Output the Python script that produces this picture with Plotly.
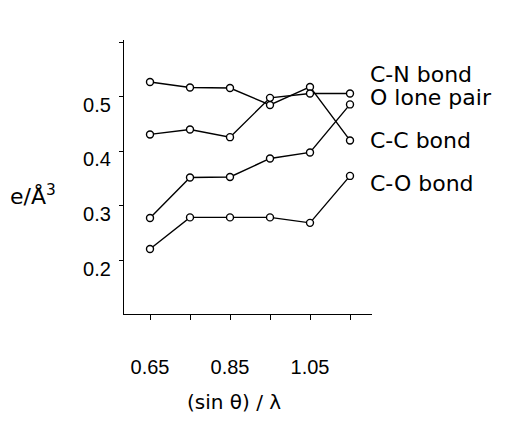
import plotly.graph_objects as go

x_vals = [0.65, 0.75, 0.85, 0.95, 1.05, 1.15]
cn_bond = [0.527, 0.517, 0.516, 0.485, 0.518, 0.420]
o_lone_pair = [0.431, 0.440, 0.426, 0.498, 0.506, 0.506]
cc_bond = [0.278, 0.352, 0.353, 0.387, 0.398, 0.486]
co_bond = [0.221, 0.279, 0.279, 0.279, 0.269, 0.355]

series = [("C-N bond", cn_bond), ("O lone pair", o_lone_pair),
          ("C-C bond", cc_bond), ("C-O bond", co_bond)]

x_tickvals = [0.65, 0.85, 1.05]
x_ticktext = ["0.65", "0.85", "1.05"]
x_minor_ticks = [0.75, 0.95, 1.15]
y_tickvals = [0.2, 0.3, 0.4, 0.5]
y_ticktext = ["0.2", "0.3", "0.4", "0.5"]
y_minor_ticks = [0.6]

label_texts = ["C-N bond", "O lone pair", "C-C bond", "C-O bond"]
label_y = [0.541, 0.499, 0.420, 0.341]

FONT = "DejaVu Sans"
TICKFONT = "Liberation Sans"

fig = go.Figure()
for name, vals in series:
    fig.add_trace(go.Scatter(
        x=x_vals, y=vals, name=name, mode="lines+markers",
        line=dict(color="black", width=1.4),
        marker=dict(symbol="circle", size=7, color="white",
                    line=dict(color="black", width=1.4)),
        showlegend=False, cliponaxis=False))

for t, yv in zip(label_texts, label_y):
    fig.add_annotation(x=1.0, xref="paper", xshift=-4, y=yv, yref="y",
                       text=t, showarrow=False, xanchor="left", yanchor="middle",
                       font=dict(family=FONT, size=22, color="black"))

fig.add_annotation(x=-0.468, xref="paper", y=0.32, yref="y",
                   text="e/Å<sup>3</sup>", showarrow=False,
                   xanchor="left", yanchor="middle",
                   font=dict(family=FONT, size=22, color="black"))
fig.add_annotation(x=0.442, xref="paper", y=-0.32, yref="paper",
                   text="(sin θ) / λ", showarrow=False,
                   xanchor="center", yanchor="middle",
                   font=dict(family=FONT, size=20, color="black"))

fig.update_layout(
    width=526, height=438,
    margin=dict(l=116, r=162, t=32, b=132),
    paper_bgcolor="white", plot_bgcolor="white",
    font=dict(family=FONT, color="black"),
    xaxis=dict(range=[0.585, 1.205], showgrid=False, zeroline=False,
               showline=True, linecolor="black", linewidth=1.3,
               ticks="outside", ticklen=5, tickwidth=1.2, tickcolor="black",
               tickvals=x_tickvals, ticktext=x_ticktext,
               minor=dict(tickvals=x_minor_ticks, ticks="outside", ticklen=5,
                          tickwidth=1.2, tickcolor="black", showgrid=False),
               tickfont=dict(family=TICKFONT, size=20, color="black"),
               ticklabelstandoff=30),
    yaxis=dict(range=[0.102, 0.604], showgrid=False, zeroline=False,
               showline=True, linecolor="black", linewidth=1.3,
               ticks="outside", ticklen=4, tickwidth=1.2, tickcolor="black",
               tickvals=y_tickvals, ticktext=y_ticktext,
               minor=dict(tickvals=y_minor_ticks, ticks="outside", ticklen=4,
                          tickwidth=1.2, tickcolor="black", showgrid=False),
               tickfont=dict(family=TICKFONT, size=20, color="black"),
               ticklabelstandoff=4, ticklabelshift=8),
)

fig.write_html("out.html")
